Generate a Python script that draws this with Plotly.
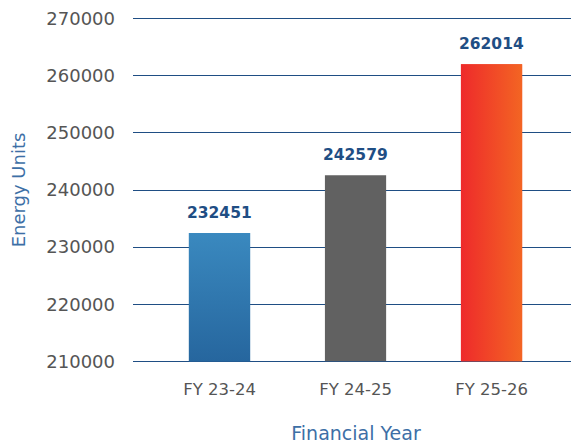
import plotly.graph_objects as go

categories = ["FY 23-24", "FY 24-25", "FY 25-26"]
values = [232451, 242579, 262014]
y_ticks = [210000, 220000, 230000, 240000, 250000, 260000, 270000]

base = 210000
bar_w = 0.45
solid_colors = ["#2f78b0", "#616161", "#f04527"]
gradients = [
    ("vertical", [[0, "#26669e"], [1, "#3a89bf"]]),
    None,
    ("horizontal", [[0, "#ee2a2b"], [1, "#f36523"]]),
]

fig = go.Figure()
fig.add_trace(go.Bar(
    x=list(range(len(categories))), y=[v - base for v in values], base=base,
    width=bar_w, marker=dict(color=solid_colors, line=dict(width=0)),
    hoverinfo="skip", showlegend=False,
))

for i, (v, g) in enumerate(zip(values, gradients)):
    if g is None:
        continue
    x0, x1 = i - bar_w / 2, i + bar_w / 2
    fig.add_trace(go.Scatter(
        x=[x0, x1, x1, x0, x0], y=[base, base, v, v, base],
        mode="lines", line=dict(width=0), fill="toself",
        fillgradient=dict(type=g[0], colorscale=g[1]),
        hoverinfo="skip", showlegend=False,
    ))

for i, v in enumerate(values):
    fig.add_annotation(
        x=i, y=v, text=f"<b>{v}</b>", showarrow=False, yanchor="bottom", yshift=9,
        font=dict(family="DejaVu Sans", size=15.5, color="#1f4e84"),
    )

fig.update_layout(
    width=579, height=443,
    margin=dict(l=125, r=8, t=9, b=88),
    plot_bgcolor="white", paper_bgcolor="white",
    font=dict(family="DejaVu Sans", color="#555555"),
    xaxis=dict(
        range=[-0.636, 2.643], tickmode="array", automargin=False,
        tickvals=list(range(len(categories))), ticktext=categories,
        showgrid=False, zeroline=False, showline=False,
        tickfont=dict(size=16.5, color="#555555"), ticklabelstandoff=14,
        title=dict(text="Financial Year", font=dict(size=19, color="#3d6fa6"), standoff=29),
    ),
    yaxis=dict(
        range=[209700, 270300], tickmode="array", tickvals=y_ticks, automargin=False,
        ticktext=[str(t) for t in y_ticks],
        showgrid=True, gridcolor="#1f4e84", gridwidth=1.3, zeroline=False,
        showline=False, tickfont=dict(size=18, color="#555555"),
        ticklabelstandoff=17,
        title=dict(text="Energy Units", font=dict(size=18, color="#3d6fa6"), standoff=24),
    ),
)

fig.write_html("out.html")
